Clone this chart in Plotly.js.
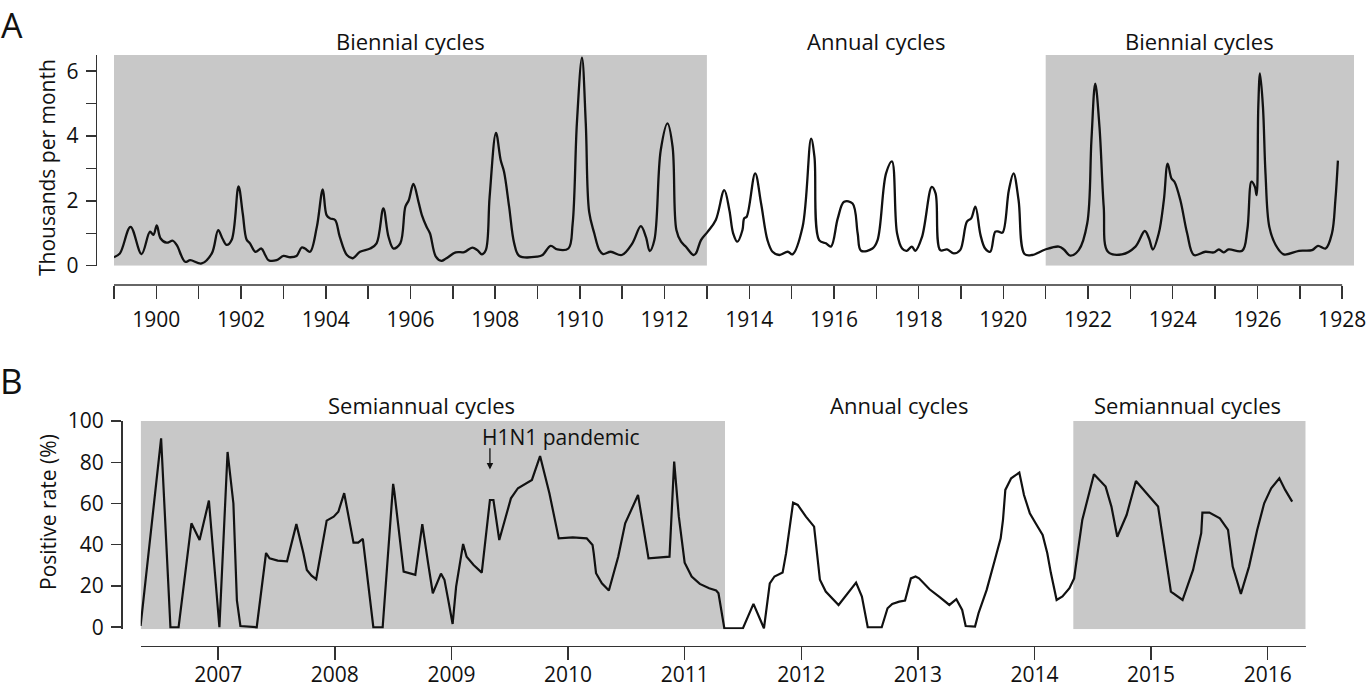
<!DOCTYPE html>
<html>
<head>
<meta charset="utf-8">
<script src="https://cdn.plot.ly/plotly-3.0.1.min.js"></script>
<style>
  html, body { margin: 0; padding: 0; background: #fff; }
  #chart { width: 1370px; height: 689px; }
</style>
</head>
<body>
<div id="chart"></div>
<script>
// Panel A: monthly counts (thousands per month), 1899-1928
const yearA = [
  1899.00, 1899.14, 1899.39, 1899.65, 1899.85, 1899.93, 1900.01, 1900.10, 1900.24, 1900.39,
  1900.48, 1900.68, 1900.80, 1901.07, 1901.31, 1901.46, 1901.56, 1901.66, 1901.78, 1901.94,
  1902.04, 1902.13, 1902.21, 1902.34, 1902.48, 1902.57, 1902.65, 1902.84, 1903.00, 1903.16,
  1903.31, 1903.43, 1903.51, 1903.63, 1903.79, 1903.93, 1904.02, 1904.10, 1904.22, 1904.33,
  1904.50, 1904.64, 1904.81, 1905.05, 1905.20, 1905.36, 1905.48, 1905.60, 1905.76, 1905.88,
  1905.96, 1906.07, 1906.19, 1906.27, 1906.38, 1906.46, 1906.60, 1906.73, 1906.84, 1907.07,
  1907.27, 1907.46, 1907.58, 1907.69, 1907.78, 1907.87, 1908.02, 1908.13, 1908.21, 1908.33,
  1908.45, 1908.57, 1909.00, 1909.12, 1909.31, 1909.47, 1909.73, 1909.83, 1909.93, 1910.05,
  1910.14, 1910.22, 1910.34, 1910.46, 1910.55, 1910.73, 1910.99, 1911.24, 1911.44, 1911.56,
  1911.65, 1911.76, 1911.91, 1912.07, 1912.19, 1912.28, 1912.39, 1912.50, 1912.68, 1912.74,
  1912.86, 1913.02, 1913.21, 1913.41, 1913.53, 1913.62, 1913.72, 1913.84, 1913.88, 1913.94,
  1914.14, 1914.28, 1914.43, 1914.55, 1914.71, 1914.91, 1915.02, 1915.26, 1915.46, 1915.54,
  1915.65, 1915.81, 1915.93, 1916.09, 1916.24, 1916.44, 1916.56, 1916.64, 1916.91, 1917.03,
  1917.23, 1917.37, 1917.49, 1917.61, 1917.72, 1917.84, 1917.92, 1918.08, 1918.31, 1918.40,
  1918.51, 1918.67, 1918.83, 1918.98, 1919.14, 1919.24, 1919.34, 1919.46, 1919.57, 1919.69,
  1919.81, 1919.89, 1919.98, 1920.13, 1920.24, 1920.36, 1920.50, 1920.68, 1920.99, 1921.31,
  1921.43, 1921.58, 1921.78, 1921.98, 1922.08, 1922.17, 1922.27, 1922.37, 1922.47, 1922.80,
  1923.12, 1923.34, 1923.44, 1923.53, 1923.67, 1923.79, 1923.88, 1923.97, 1924.04, 1924.18,
  1924.34, 1924.50, 1924.77, 1924.97, 1925.09, 1925.20, 1925.32, 1925.64, 1925.76, 1925.86,
  1925.94, 1925.98, 1926.02, 1926.06, 1926.13, 1926.19, 1926.28, 1926.43, 1926.62, 1926.98,
  1927.29, 1927.43, 1927.61, 1927.76, 1927.84, 1927.90
];
const casesA = [
  0.26, 0.38, 1.20, 0.36, 1.05, 0.95, 1.24, 0.84, 0.71, 0.77,
  0.64, 0.12, 0.17, 0.07, 0.38, 1.10, 0.84, 0.64, 0.80, 2.45,
  1.61, 0.81, 0.69, 0.43, 0.53, 0.33, 0.17, 0.17, 0.30, 0.26,
  0.30, 0.56, 0.53, 0.43, 1.20, 2.35, 1.56, 1.46, 1.41, 0.90,
  0.33, 0.23, 0.43, 0.53, 0.69, 1.77, 0.90, 0.53, 0.69, 1.82,
  2.02, 2.52, 1.97, 1.56, 1.20, 1.00, 0.28, 0.15, 0.22, 0.41,
  0.42, 0.56, 0.48, 0.35, 0.48, 2.13, 4.10, 3.26, 2.90, 1.82,
  0.69, 0.30, 0.28, 0.33, 0.61, 0.50, 0.53, 1.30, 4.39, 6.42,
  4.39, 1.66, 1.00, 0.48, 0.36, 0.43, 0.33, 0.69, 1.22, 0.89,
  0.45, 0.79, 3.56, 4.39, 3.67, 1.10, 0.74, 0.59, 0.33, 0.38,
  0.79, 1.05, 1.41, 2.33, 1.72, 1.00, 0.74, 1.10, 1.46, 1.51,
  2.85, 1.92, 0.79, 0.43, 0.33, 0.43, 0.35, 1.20, 3.92, 3.36,
  0.79, 0.69, 0.59, 1.46, 1.97, 1.92, 1.00, 0.46, 0.53, 0.79,
  2.85, 3.22, 1.00, 0.53, 0.46, 0.59, 0.46, 0.89, 2.43, 2.23,
  0.48, 0.50, 0.38, 0.48, 1.36, 1.46, 1.82, 0.95, 0.53, 0.43,
  1.05, 1.05, 1.02, 2.33, 2.85, 2.02, 0.36, 0.33, 0.50, 0.59,
  0.50, 0.31, 0.48, 1.30, 3.87, 5.62, 4.28, 1.82, 0.43, 0.35,
  0.59, 1.07, 0.84, 0.50, 1.00, 2.02, 3.15, 2.69, 2.59, 2.02,
  1.00, 0.33, 0.43, 0.41, 0.50, 0.41, 0.50, 0.46, 1.10, 2.59,
  2.43, 2.18, 4.90, 5.93, 4.90, 2.85, 1.20, 0.64, 0.35, 0.46,
  0.48, 0.61, 0.53, 1.00, 2.02, 3.24
];
// Cycle regimes in panel A
const regimeStartA = [1899, 1913, 1921];
const regimeEndA   = [1913, 1921, 1928.28];
const regimeLabelA = ["Biennial cycles", "Annual cycles", "Biennial cycles"];
const regimeShadedA = [true, false, true];

// Panel B: influenza positive rate (%), 2006-2016
const yearB = [
  2006.334, 2006.51, 2006.59, 2006.66, 2006.77, 2006.84, 2006.92, 2007.01, 2007.08, 2007.13,
  2007.16, 2007.19, 2007.33, 2007.41, 2007.44, 2007.51, 2007.59, 2007.67, 2007.73, 2007.76,
  2007.80, 2007.84, 2007.93, 2007.99, 2008.03, 2008.08, 2008.16, 2008.20, 2008.24, 2008.33,
  2008.41, 2008.50, 2008.51, 2008.59, 2008.69, 2008.75, 2008.80, 2008.84, 2008.91, 2008.94,
  2008.97, 2009.01, 2009.04, 2009.10, 2009.13, 2009.19, 2009.26, 2009.30, 2009.33, 2009.36,
  2009.41, 2009.47, 2009.51, 2009.57, 2009.64, 2009.69, 2009.76, 2009.84, 2009.92, 2010.04,
  2010.16, 2010.21, 2010.22, 2010.24, 2010.29, 2010.35, 2010.43, 2010.49, 2010.60, 2010.64,
  2010.69, 2010.87, 2010.91, 2010.95, 2011.00, 2011.06, 2011.13, 2011.21, 2011.27, 2011.29,
  2011.34, 2011.50, 2011.59, 2011.68, 2011.73, 2011.77, 2011.84, 2011.87, 2011.93, 2011.97,
  2012.04, 2012.11, 2012.16, 2012.21, 2012.32, 2012.47, 2012.52, 2012.57, 2012.69, 2012.74,
  2012.78, 2012.84, 2012.89, 2012.94, 2012.98, 2013.01, 2013.10, 2013.19, 2013.27, 2013.33,
  2013.38, 2013.41, 2013.49, 2013.52, 2013.59, 2013.66, 2013.71, 2013.73, 2013.75, 2013.80,
  2013.87, 2013.91, 2013.96, 2014.01, 2014.07, 2014.11, 2014.14, 2014.19, 2014.24, 2014.30,
  2014.34, 2014.37, 2014.41, 2014.51, 2014.61, 2014.66, 2014.71, 2014.79, 2014.87, 2015.06,
  2015.11, 2015.17, 2015.27, 2015.36, 2015.43, 2015.44, 2015.50, 2015.59, 2015.66, 2015.70,
  2015.77, 2015.84, 2015.91, 2015.97, 2016.03, 2016.10, 2016.15, 2016.21
];
const rateB = [
  0.6, 91.6, 0, 0, 50.4, 42.3, 61.4, 0, 85, 60,
  13, 0.6, 0, 36, 33.4, 32.3, 32, 50, 36, 27.8,
  25, 23.3, 51.7, 53.6, 56, 65, 41, 41, 42.8, 0,
  0, 69.5, 65.8, 27, 25.4, 50, 31, 16.5, 26, 23,
  14, 1.6, 19.7, 40.4, 34.2, 30.2, 26.5, 48, 61.7, 61.7,
  42.3, 54.4, 62.5, 67.4, 69.8, 71.4, 83, 65, 43.1, 43.6,
  43.1, 39.9, 35.9, 26.2, 21.3, 17.8, 34.2, 50.4, 64.1, 50.4,
  33.4, 34.2, 80.3, 53.6, 31.3, 24.6, 21, 18.9, 17.8, 16.5,
  -0.5, -0.5, 11.3, -0.5, 21.3, 24.6, 26.5, 35.9, 60.4, 59.3,
  53.6, 48.8, 23, 17.3, 10.8, 21.6, 14.9, 0, 0, 9.2,
  11.3, 12.4, 12.9, 23.7, 24.6, 23.7, 18.4, 14.5, 10.8, 13.6,
  8.4, 0.6, 0.3, 6.8, 18.1, 32.6, 43.1, 52, 66.6, 72.2,
  75, 64.1, 55.3, 50.4, 44.7, 35.9, 26.5, 13.2, 14.9, 18.9,
  23.7, 35.9, 52, 74.2, 68.2, 58.5, 43.9, 54.4, 70.9, 58.5,
  40.7, 17.3, 13.2, 27.8, 45.6, 55.6, 55.6, 52.8, 47.2, 29.4,
  16.2, 29.4, 47.2, 60.1, 67.4, 72.2, 66.6, 60.9
];
// Cycle regimes in panel B
const regimeStartB = [2006.335, 2011.346, 2014.333];
const regimeEndB   = [2011.346, 2014.333, 2016.326];
const regimeLabelB = ["Semiannual cycles", "Annual cycles", "Semiannual cycles"];
const regimeLabelPosB = [2008.743, 2012.84, 2015.31];
const regimeShadedB = [true, false, true];
const pandemicLabel = "H1N1 pandemic";
const pandemicYear = 2009.33;

// ---- page geometry (pixels) ----
const W = 1370, H = 689;
const px = v => v / W;
const py = v => 1 - v / H;
const FONT = "Open Sans, Noto Sans, sans-serif";
const INK = "#111";
const AXIS = "#333";

const shapes = [];
const annotations = [];

regimeStartA.forEach((s, i) => {
  if (regimeShadedA[i]) {
    shapes.push({type: "rect", xref: "x", yref: "y", x0: s, x1: regimeEndA[i], y0: 0, y1: 6.5,
      fillcolor: "#c8c8c8", line: {width: 0}, layer: "below"});
  }
  annotations.push({xref: "x", yref: "paper", x: (s + regimeEndA[i]) / 2, y: py(41),
    text: regimeLabelA[i], showarrow: false, xanchor: "center", yanchor: "middle",
    font: {family: FONT, size: 22, color: INK}});
});
regimeStartB.forEach((s, i) => {
  if (regimeShadedB[i]) {
    shapes.push({type: "rect", xref: "x2", yref: "y2", x0: s, x1: regimeEndB[i], y0: -1, y1: 100,
      fillcolor: "#c8c8c8", line: {width: 0}, layer: "below"});
  }
  annotations.push({xref: "x2", yref: "paper", x: regimeLabelPosB[i], y: py(405),
    text: regimeLabelB[i], showarrow: false, xanchor: "center", yanchor: "middle",
    font: {family: FONT, size: 22, color: INK}});
});

// baseline of the time axis in panel A ends at the last labelled year
shapes.push({type: "line", xref: "x", yref: "paper", x0: 1899, x1: 1928, y0: py(285), y1: py(285),
  line: {color: AXIS, width: 1.5}});

// panel letters
annotations.push({xref: "paper", yref: "paper", x: px(12), y: 1, text: "A", showarrow: false,
  xanchor: "center", yanchor: "top", font: {family: FONT, size: 34, color: INK}});
annotations.push({xref: "paper", yref: "paper", x: px(11), y: py(380), text: "B", showarrow: false,
  xanchor: "center", yanchor: "middle", font: {family: FONT, size: 35, color: INK}});

// axis titles
annotations.push({xref: "paper", yref: "paper", x: px(47), y: py(168), text: "Thousands per month",
  textangle: -90, showarrow: false, xanchor: "center", yanchor: "middle",
  font: {family: FONT, size: 21, color: INK}});
annotations.push({xref: "paper", yref: "paper", x: px(48), y: py(512), text: "Positive rate (%)",
  textangle: -90, showarrow: false, xanchor: "center", yanchor: "middle",
  font: {family: FONT, size: 21, color: INK}});

// pandemic marker
annotations.push({xref: "x2", yref: "paper", x: 2009.94, y: py(437), text: pandemicLabel,
  showarrow: false, xanchor: "center", yanchor: "middle", font: {family: FONT, size: 21, color: INK}});
annotations.push({xref: "x2", yref: "y2", x: pandemicYear, y: 76.5, axref: "x2", ayref: "y2",
  ax: pandemicYear, ay: 87.5, text: "", showarrow: true, arrowhead: 2, arrowsize: 1,
  arrowwidth: 1.3, arrowcolor: INK});

const traces = [
  {x: yearA, y: casesA, xaxis: "x", yaxis: "y", mode: "lines",
   line: {color: INK, width: 2.3, shape: "spline", smoothing: 1.0}, hoverinfo: "x+y"},
  {x: yearB, y: rateB, xaxis: "x2", yaxis: "y2", mode: "lines",
   line: {color: INK, width: 2.2}, hoverinfo: "x+y"}
];

const tickFont = {family: FONT, size: 21, color: INK};
const layout = {
  width: W, height: H,
  margin: {l: 0, r: 0, t: 0, b: 0},
  paper_bgcolor: "#fff", plot_bgcolor: "rgba(0,0,0,0)",
  showlegend: false,
  xaxis: {
    domain: [px(114), px(1354)], range: [1899, 1928.28], anchor: "free", position: py(285),
    showline: false, showgrid: false, zeroline: false,
    tickmode: "linear", tick0: 1900, dtick: 2, ticks: "outside", ticklen: 13, tickwidth: 1.5,
    tickcolor: AXIS, tickfont: tickFont, ticklabelstandoff: 3,
    minor: {tickmode: "linear", tick0: 1899, dtick: 1, ticks: "outside", ticklen: 13,
            tickwidth: 1.5, tickcolor: AXIS, showgrid: false}
  },
  yaxis: {
    domain: [py(265.7), py(55)], range: [0, 6.5], anchor: "free", position: px(95.7),
    showline: true, linecolor: AXIS, linewidth: 1.5, showgrid: false, zeroline: false,
    tickmode: "linear", tick0: 0, dtick: 2, ticks: "outside", ticklen: 10, tickwidth: 1.5,
    tickcolor: AXIS, tickfont: tickFont, ticklabelstandoff: 3,
    minor: {tickmode: "linear", tick0: 0, dtick: 1, ticks: "outside", ticklen: 10,
            tickwidth: 1.5, tickcolor: AXIS, showgrid: false}
  },
  xaxis2: {
    domain: [px(140.7), px(1305.7)], range: [2006.335, 2016.326], anchor: "free", position: py(645.7),
    showline: true, linecolor: AXIS, linewidth: 1.5, showgrid: false, zeroline: false,
    tickmode: "linear", tick0: 2007, dtick: 1, ticks: "outside", ticklen: 13, tickwidth: 1.5,
    tickcolor: AXIS, tickfont: tickFont, ticklabelstandoff: -3
  },
  yaxis2: {
    domain: [py(629.3), py(421)], range: [-1, 100], anchor: "free", position: px(121),
    showline: true, linecolor: AXIS, linewidth: 1.5, showgrid: false, zeroline: false,
    tickmode: "linear", tick0: 0, dtick: 20, ticks: "outside", ticklen: 10, tickwidth: 1.5,
    tickcolor: AXIS, tickfont: tickFont, ticklabelstandoff: 3
  },
  shapes: shapes,
  annotations: annotations
};

Plotly.newPlot("chart", traces, layout, {displayModeBar: false, staticPlot: true});
</script>
</body>
</html>
